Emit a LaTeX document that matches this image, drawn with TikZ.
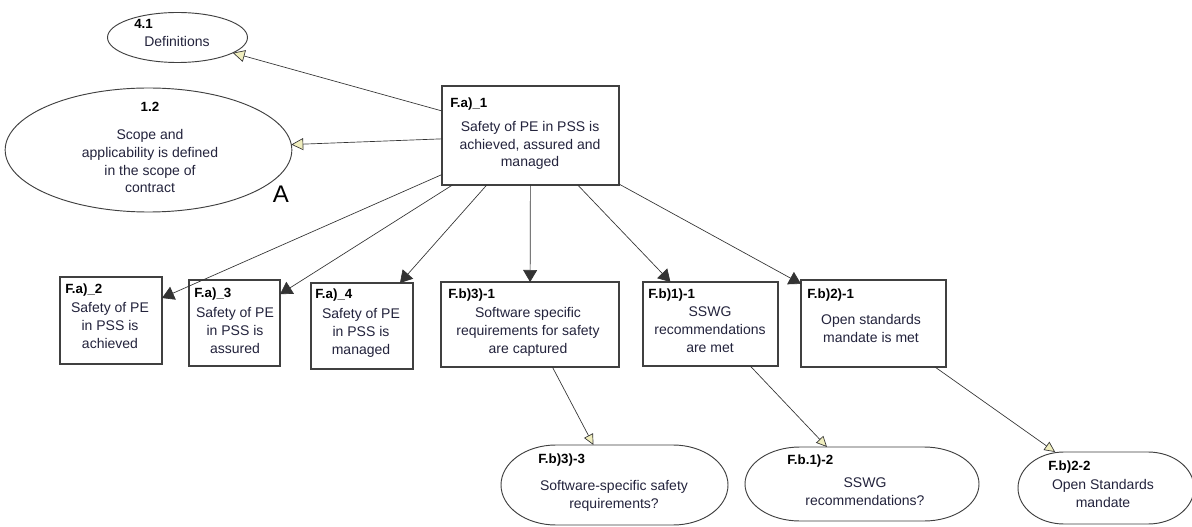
\documentclass[tikz,border=0pt]{standalone}
\usepackage{fontspec}
\setmainfont{Liberation Sans}
\usetikzlibrary{arrows.meta,shapes.geometric,calc}
\definecolor{bodytxt}{RGB}{35,35,60}
\definecolor{ctxfill}{RGB}{240,238,190}

% outline of a context shape: flat top and bottom, half-ellipse ends
\newcommand{\ctxoutline}[3]{% node name, end radius (px), half height (px)
  \draw[ctxline] ($(#1.north west)+(#2,0)$)
    arc[start angle=270,end angle=90,x radius=#2,y radius=#3]
    -- ($(#1.south east)+(-#2,0)$)
    arc[start angle=90,end angle=-90,x radius=#2,y radius=#3]
    -- cycle;}

\begin{document}
\begin{tikzpicture}[x=0.75pt,y=-0.75pt,
  goalbox/.style={draw=black!75,line width=0.8pt,rectangle,inner sep=0pt,outer sep=0pt},
  ovalbox/.style={draw=black!75,line width=0.7pt,ellipse,inner sep=0pt,outer sep=0pt},
  ctxbox/.style={rectangle,inner sep=0pt,outer sep=0pt},
  ctxline/.style={draw=black!75,line width=0.7pt},
  idtxt/.style={font=\fontsize{10}{12}\selectfont\bfseries,anchor=base west,inner sep=0pt},
  bodytext/.style={font=\fontsize{10.5}{13.3}\selectfont,text=bodytxt,align=center,anchor=base,inner sep=0pt},
  solved/.style={draw=black!80,line width=0.5pt,-{Triangle[length=9pt,width=10.5pt]}},
  incontext/.style={draw=black!80,line width=0.5pt,-{Triangle[length=8pt,width=7.5pt,fill=ctxfill]}},
  bigcontext/.style={incontext,-{Triangle[length=9pt,width=9pt,fill=ctxfill]}},
]
\path[use as bounding box,fill=white] (0,0) rectangle (1192,527);

% context ellipses at the top left
\node[ovalbox,minimum width=105pt,minimum height=37.5pt] (def41) at (177.5,37.5) {};
\node[idtxt] (def41id) at (134,29) {4.1};
\node[bodytext] (def41tx) at (177,47) {Definitions};

\node[ovalbox,minimum width=215pt,minimum height=93pt] (sc12) at (148.5,150) {};
\node[idtxt,anchor=base] (sc12id) at (150,112) {1.2};
\node[bodytext] (sc12tx) at (150,193) {Scope and\\applicability is defined\\in the scope of\\contract};
\node[font=\fontsize{18}{20}\selectfont,anchor=base,inner sep=0pt] (sc12mark) at (281,203) {A};

% top goal
\node[goalbox,minimum width=132.75pt,minimum height=74.25pt] (fa1) at (530.5,135.5) {};
\node[idtxt] (fa1id) at (450,108) {F.a)\_1};
\node[bodytext] (fa1tx) at (530,167) {Safety of PE in PSS is\\achieved, assured and\\managed};

% sub-goals
\node[goalbox,minimum width=76.5pt,minimum height=65.25pt] (fa2) at (111,320.5) {};
\node[idtxt] (fa2id) at (65,294) {F.a)\_2};
\node[bodytext] (fa2tx) at (110,348) {Safety of PE\\in PSS is\\achieved};

\node[goalbox,minimum width=68.25pt,minimum height=64.5pt] (fa3) at (234.5,323) {};
\node[idtxt] (fa3id) at (194,297) {F.a)\_3};
\node[bodytext] (fa3tx) at (235,353) {Safety of PE\\in PSS is\\assured};

\node[goalbox,minimum width=76.5pt,minimum height=64.5pt] (fa4) at (362,326) {};
\node[idtxt] (fa4id) at (315,299) {F.a)\_4};
\node[bodytext] (fa4tx) at (361,354) {Safety of PE\\in PSS is\\managed};

\node[goalbox,minimum width=133.5pt,minimum height=63.75pt] (fb31) at (530,324.5) {};
\node[idtxt] (fb31id) at (448,298) {F.b)3)-1};
\node[bodytext] (fb31tx) at (528,353) {Software specific\\requirements for safety\\are captured};

\node[goalbox,minimum width=101.25pt,minimum height=63pt] (fb11) at (710.5,324) {};
\node[idtxt] (fb11id) at (648,298) {F.b)1)-1};
\node[bodytext] (fb11tx) at (710,352) {SSWG\\recommendations\\are met};

\node[goalbox,minimum width=108.75pt,minimum height=65.25pt] (fb21) at (873.5,323.5) {};
\node[idtxt] (fb21id) at (807,298) {F.b)2)-1};
\node[bodytext] (fb21tx) at (871,342) {Open standards\\mandate is met};

% context shapes at the bottom
\node[ctxbox,minimum width=170.25pt,minimum height=60pt] (fb33) at (614.5,485) {};
\ctxoutline{fb33}{55}{40}
\node[idtxt] (fb33id) at (538,463) {F.b)3)-3};
\node[bodytext] (fb33tx) at (614,508) {Software-specific safety\\requirements?};

\node[ctxbox,minimum width=175.5pt,minimum height=55.5pt] (fb12) at (862,484) {};
\ctxoutline{fb12}{55}{37}
\node[idtxt] (fb12id) at (787,464) {F.b.1)-2};
\node[bodytext] (fb12tx) at (865,505) {SSWG\\recommendations?};

\node[ctxbox,minimum width=132pt,minimum height=54pt] (fb22) at (1106,488) {};
\ctxoutline{fb22}{46}{36}
\node[idtxt] (fb22id) at (1048,470) {F.b)2-2};
\node[bodytext] (fb22tx) at (1103,507) {Open Standards\\mandate};

% connectors
\draw[bigcontext] (fa1) -- (def41);
\draw[bigcontext] (fa1) -- (sc12);
\draw[solved] (fa1) -- (fa2);
\draw[solved] (fa1) -- (fa3);
\draw[solved] (fa1) -- (fa4);
\draw[solved] (fa1) -- (fb31);
\draw[solved] (fa1) -- (fb11);
\draw[solved] (fa1) -- (fb21);
\draw[incontext] (fb31) -- (fb33);
\draw[incontext] (fb11) -- (fb12);
\draw[incontext] (fb21) -- (fb22);
\end{tikzpicture}
\end{document}
